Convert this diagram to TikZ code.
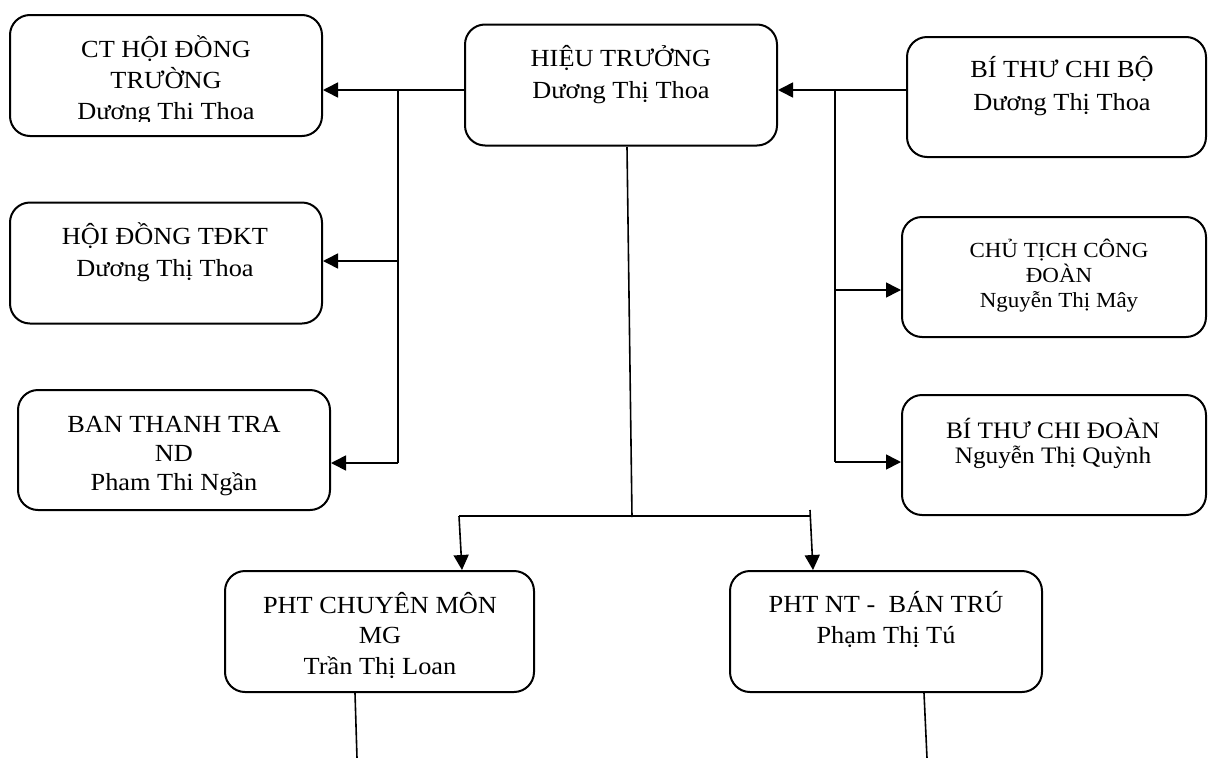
\documentclass[tikz,border=0pt]{standalone}
\usepackage{fontspec}
\setmainfont[FakeStretch=1.07]{Liberation Serif}
\usetikzlibrary{arrows.meta}
\newcommand\stk[1]{\vtop{\lineskiplimit=-100pt\lineskip=0pt\halign{\hfil##\hfil\cr#1\crcr}}}
\begin{document}
\begin{tikzpicture}[x=1pt,y=-1pt,
  box/.style={draw, line width=2pt, rounded corners=20pt, minimum width=312pt, minimum height=121pt, inner sep=0pt},
  txt/.style={anchor=base, inner sep=0pt},
  conn/.style={line width=1.6pt},
  arr/.style={conn, -{Triangle[length=15pt,width=15pt]}}]
\useasboundingbox (0,0) rectangle (1208,758);
% boxes
\node[box] (ct) at (166,75.5) {};
\node[box] (ht) at (621,85) {};
\node[box, minimum width=299pt, minimum height=120pt] (btcb) at (1056.5,97) {};
\node[box] (tdkt) at (166,263) {};
\node[box, minimum height=120pt] (ban) at (174,450) {};
\node[box, minimum width=304pt, minimum height=120pt] (ctcd) at (1054,277) {};
\node[box, minimum width=304pt, minimum height=120pt] (btcd) at (1054,455) {};
\node[box, minimum width=309pt] (phtcm) at (379.5,631.5) {};
\node[box] (phtnt) at (886,631.5) {};
% texts
\begin{scope}
\clip (0,0) rectangle (1208,121);
\node[txt, font=\fontsize{24.6}{31}\selectfont] (ctT) at (166,57) {\stk{CT HỘI ĐỒNG\cr TRƯỜNG\cr Dương Thi Thoa}};
\end{scope}
\node[txt, font=\fontsize{24.6}{32}\selectfont] (htT) at (621,66) {\stk{HIỆU TRƯỞNG\cr Dương Thị Thoa}};
\node[txt, font=\fontsize{24.6}{33}\selectfont] (btcbT) at (1062,77) {\stk{BÍ THƯ CHI BỘ\cr Dương Thị Thoa}};
\node[txt, font=\fontsize{24.6}{32}\selectfont] (tdktT) at (165,244) {\stk{HỘI ĐỒNG TĐKT\cr Dương Thị Thoa}};
\begin{scope}
\clip (0,0) rectangle (1208,495);
\node[txt, font=\fontsize{24.6}{29}\selectfont] (banT) at (174,432) {\stk{BAN THANH TRA\cr ND\cr Pham Thi Ngần}};
\end{scope}
\node[txt, font=\fontsize{21.5}{25}\selectfont] (ctcdT) at (1059,257) {\stk{CHỦ TỊCH CÔNG\cr ĐOÀN\cr Nguyễn Thị Mây}};
\node[txt, font=\fontsize{23.6}{25}\selectfont] (btcdT) at (1053,438) {\stk{BÍ THƯ CHI ĐOÀN\cr Nguyễn Thị Quỳnh}};
\node[txt, font=\fontsize{24.6}{30.5}\selectfont] (phtcmT) at (380,613) {\stk{PHT CHUYÊN MÔN\cr MG\cr Trần Thị Loan}};
\node[txt, font=\fontsize{24.6}{31}\selectfont] (phtntT) at (886,612) {\stk{PHT NT - \ BÁN TRÚ\cr Phạm Thị Tú}};
% junction coordinates
\coordinate (jL) at (398,90);
\coordinate (jL2) at (398,261);
\coordinate (jL3) at (398,463);
\coordinate (jR) at (835,90);
\coordinate (jR2) at (835,290);
\coordinate (jR3) at (835,462);
\coordinate (jCt) at (627,147);
\coordinate (jC) at (632,517);
\coordinate (jB1) at (459,516);
\coordinate (jB2) at (811,516);
\coordinate (jB2t) at (810,510);
\coordinate (xA) at (462,0);
\coordinate (xB) at (813,0);
\coordinate (xC) at (355,0);
\coordinate (eC) at (357,758);
\coordinate (xD) at (924,0);
\coordinate (eD) at (927,758);
% left group
\draw[arr] (ht.west |- jL) -- (ct.east |- jL);
\draw[conn] (jL) -- (jL3);
\draw[arr] (jL2) -- (tdkt.east |- jL2);
\draw[arr] (jL3) -- (ban.east |- jL3);
% right group
\draw[arr] (btcb.west |- jR) -- (ht.east |- jR);
\draw[conn] (jR) -- (jR3);
\draw[arr] (jR2) -- (ctcd.west |- jR2);
\draw[arr] (jR3) -- (btcd.west |- jR3);
% centre
\draw[conn] (jCt) -- (jC);
\draw[conn] (jB1) -- (jB2);
\draw[arr] (jB1) -- (phtcm.north -| xA);
\draw[arr] (jB2t) -- (phtnt.north -| xB);
\draw[conn] (phtcm.south -| xC) -- (eC);
\draw[conn] (phtnt.south -| xD) -- (eD);
\end{tikzpicture}
\end{document}
